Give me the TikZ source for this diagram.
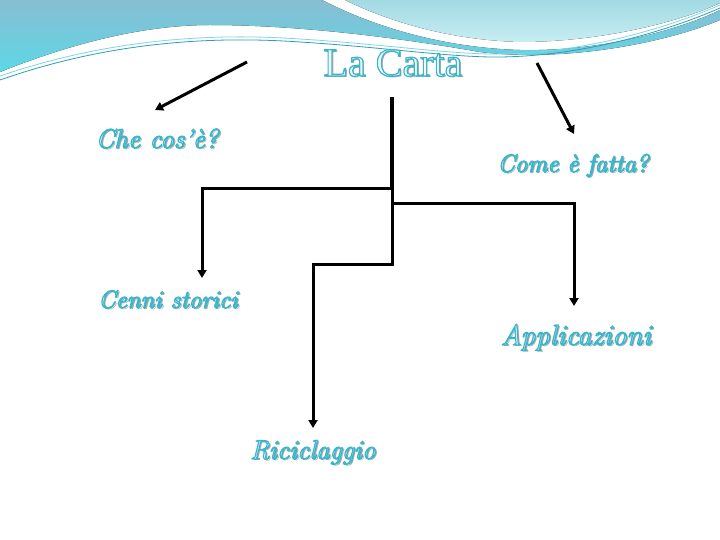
\documentclass[tikz,border=0pt]{standalone}
\usepackage{fontspec}
\newfontfamily\titlefont{Liberation Serif}
\usetikzlibrary{arrows.meta,calc}
\definecolor{shadowgray}{HTML}{A8A8A8}
\definecolor{bandtop}{HTML}{88BDD2}
\definecolor{bandbot}{HTML}{5CD8E6}
\definecolor{lightA}{HTML}{A2D9E3}
\definecolor{lightB}{HTML}{C6EEF2}
\definecolor{thinline}{HTML}{2A9FB5}
\definecolor{thinlight}{HTML}{7FD6E4}
\definecolor{letterfill}{HTML}{F4F8F9}
\tikzset{
  lbl/.style={inner sep=0pt, anchor=base},
  conn/.style={line width=3pt, line join=miter, -{Triangle[length=8pt,width=9pt]}},
  trunk/.style={line width=3.5pt},
}
\newcommand\outlined[1]{\special{pdf:literal direct 2 Tr 1.2 w 0.23 0.71 0.80 RG}#1\special{pdf:literal direct 0 Tr}}
\newcommand\fancytext[1]{\rlap{\kern1.6pt\raisebox{-1.6pt}{\textcolor{shadowgray}{#1}}}\textcolor{letterfill}{\outlined{#1}}}
\begin{document}
\begin{tikzpicture}[x=1pt,y=-1pt]
\useasboundingbox[fill=white] (0,0) rectangle (720,540);
% top decoration
\fill[top color=bandtop,bottom color=bandbot] (0,0) -- (322,0)
  .. controls (380,30) and (450,48) .. (520,50)
  .. controls (610,52) and (690,25) .. (720,10) -- (720,20)
  .. controls (660,45) and (560,62) .. (480,52)
  .. controls (400,38) and (300,25) .. (210,25)
  .. controls (150,25) and (80,40) .. (0,72) -- cycle;
\fill[top color=lightA,bottom color=lightB] (345,0) -- (720,0) -- (720,3)
  .. controls (680,22) and (600,42) .. (520,42)
  .. controls (450,40) and (390,22) .. (345,0) -- cycle;
\draw[thinline, line width=0.8pt] (0,80) .. controls (100,45) and (200,35) .. (300,42)
  .. controls (380,47) and (440,56) .. (490,57)
  .. controls (580,58) and (670,30) .. (720,8);
\draw[thinlight, line width=0.8pt] (0,76) .. controls (100,42) and (200,32) .. (300,39)
  .. controls (380,44) and (440,53) .. (490,54)
  .. controls (580,55) and (670,27) .. (720,5);
% labels
\node[lbl] (title) at (393,76) {\titlefont\fontsize{40}{44}\selectfont\fancytext{La Carta}};
\node[lbl] (che) at (157,148) {\itshape\fontsize{27}{30}\selectfont\fancytext{Che cos’è?}};
\node[lbl] (come) at (573,172) {\itshape\fontsize{25}{28}\selectfont\fancytext{Come è fatta?}};
\node[lbl] (cenni) at (168,308) {\itshape\fontsize{25}{28}\selectfont\fancytext{Cenni storici}};
\node[lbl] (appl) at (576,345) {\itshape\fontsize{29}{32}\selectfont\fancytext{Applicazioni}};
\node[lbl] (rici) at (313,459) {\itshape\fontsize{27}{30}\selectfont\fancytext{Riciclaggio}};
% connectors
\coordinate (a1s) at (247,62);
\coordinate (a1e) at (155,110);
\coordinate (a2s) at (537,63);
\coordinate (a2e) at (574,134);
\draw[conn] (a1s) -- (a1e);
\draw[conn] (a2s) -- (a2e);
\coordinate (t0) at (392,97);
\coordinate (t1) at (392,189);
\coordinate (l1) at (202,189);
\coordinate (l2) at (202,278);
\coordinate (m1) at (392,204);
\coordinate (m2) at (392,264);
\coordinate (m3) at (313,264);
\coordinate (m4) at (313,428);
\coordinate (r1) at (574,204);
\coordinate (r2) at (574,306);
\draw[trunk] (t0) -- (t1);
\draw[conn] (t1) -- (l1) -- (l2);
\draw[line width=3pt] (t1) -- (m1);
\draw[conn] (m1) -- (m2) -- (m3) -- (m4);
\draw[conn] (m1) -- (r1) -- (r2);
\end{tikzpicture}
\end{document}
